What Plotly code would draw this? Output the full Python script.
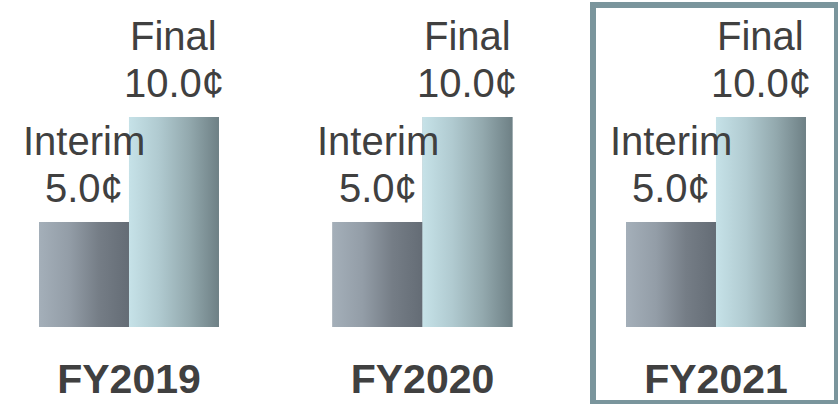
import plotly.graph_objects as go

# ---- data ----
years = ["FY2019", "FY2020", "FY2021"]
interim = [5.0, 5.0, 5.0]
final = [10.0, 10.0, 10.0]
series_names = ["Interim", "Final"]

# ---- style ----
FONT = "Arial, Liberation Sans, sans-serif"
TEXT_COLOR = "#404040"
BAR_W = 0.3066
interim_grad = ["#a4afb9", "#939da7", "#757d86", "#646c75"]
final_grad = ["#c6e2e8", "#b0cad0", "#93a9ae", "#6e8085"]
mid_colors = ["#858e98", "#9fb5ba"]

x_idx = list(range(len(years)))

fig = go.Figure()

series = [
    (series_names[0], interim, -BAR_W, interim_grad, mid_colors[0]),
    (series_names[1], final, 0.0, final_grad, mid_colors[1]),
]

for name, vals, offset, grad, mid in series:
    fig.add_trace(go.Bar(
        x=x_idx, y=vals, width=BAR_W, offset=offset,
        marker=dict(color=mid, line=dict(width=0)),
        name=name, showlegend=False, hoverinfo="skip",
    ))
    n = len(grad) - 1
    cscale = [[k / n, c] for k, c in enumerate(grad)]
    for i, v in zip(x_idx, vals):
        x0 = i + offset
        x1 = x0 + BAR_W
        fig.add_trace(go.Scatter(
            x=[x0, x0, x1, x1, x0], y=[0, v, v, 0, 0],
            fill="toself", mode="none",
            fillgradient=dict(type="horizontal", colorscale=cscale, start=x0, stop=x1),
            hoverinfo="skip", showlegend=False,
        ))
        xc = i + offset + BAR_W / 2
        fig.add_annotation(x=xc, y=v, text=f"{v:.1f}¢", showarrow=False,
                           yanchor="bottom", yshift=10,
                           font=dict(family=FONT, size=40, color=TEXT_COLOR))
        fig.add_annotation(x=xc, y=v, text=name, showarrow=False,
                           yanchor="bottom", yshift=57,
                           font=dict(family=FONT, size=40, color=TEXT_COLOR))

# highlight frame around latest year (decoration)
fig.add_shape(type="rect", xref="paper", yref="paper",
              x0=593 / 838, x1=837 / 838, y0=-76 / 327, y1=322 / 327,
              line=dict(color="#7a959c", width=6), fillcolor="rgba(0,0,0,0)")

fig.update_layout(
    width=838, height=404,
    margin=dict(l=0, r=0, t=0, b=77),
    paper_bgcolor="white", plot_bgcolor="white",
    barmode="overlay",
    xaxis=dict(range=[-0.4395, 2.4157], tickvals=x_idx, ticktext=years,
               tickfont=dict(family=FONT, size=41, color=TEXT_COLOR, weight="bold"),
               ticklabelstandoff=24,
               showgrid=False, zeroline=False, showline=False, ticks=""),
    yaxis=dict(range=[0, 15.571], visible=False, showgrid=False, zeroline=False),
    showlegend=False,
)

fig.write_html("out.html",
               config={"displayModeBar": False},
               post_script="document.body.style.margin='0';document.body.style.padding='0';")
